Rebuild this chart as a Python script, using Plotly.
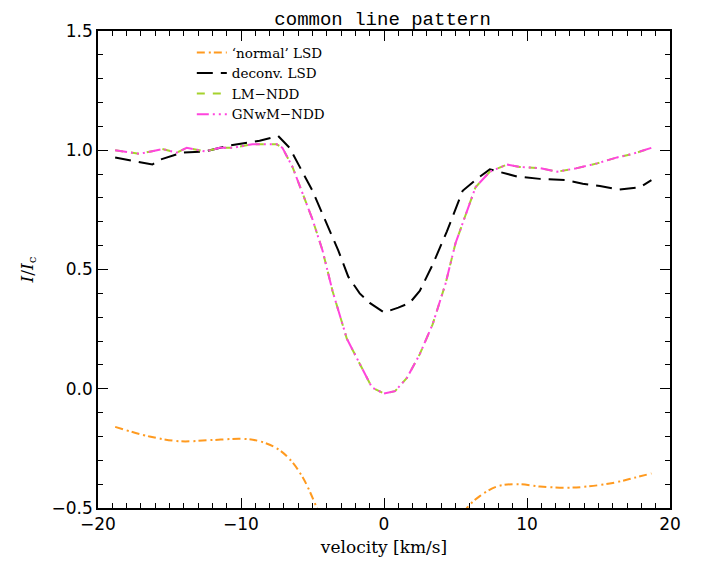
import plotly.graph_objects as go

# 'normal' LSD (orange) — dips below the plotted range near line centre
x_normal = [-18.8, -16.4, -14.3, -12.0, -9.9, -8.7, -7.5, -6.6, -5.7, -4.7, -3.5, -2.0, 0.0, 2.0, 3.8, 5.0, 5.8, 6.7, 7.9, 9.3, 10.9, 12.8, 14.2, 16.0, 17.4, 18.7]
y_normal = [-0.16, -0.20, -0.22, -0.215, -0.21, -0.22, -0.25, -0.295, -0.37, -0.50, -0.70, -0.88, -0.97, -0.88, -0.70, -0.58, -0.50, -0.45, -0.41, -0.40, -0.41, -0.415, -0.41, -0.395, -0.375, -0.355]

# deconvolved LSD (black)
x_deconv = [-18.8, -16.2, -15.7, -14.1, -12.5, -10.8, -8.7, -7.4, -6.6, -5.0, -3.2, -2.5, -1.7, -1.0, 0.0, 1.0, 1.8, 2.5, 3.4, 4.4, 5.5, 6.5, 7.4, 9.3, 10.9, 12.7, 13.9, 15.1, 16.4, 17.9, 18.7]
y_deconv = [0.97, 0.94, 0.96, 0.99, 0.995, 1.02, 1.04, 1.06, 1.01, 0.83, 0.58, 0.47, 0.40, 0.36, 0.32, 0.34, 0.36, 0.41, 0.52, 0.66, 0.83, 0.88, 0.92, 0.89, 0.88, 0.875, 0.86, 0.85, 0.835, 0.845, 0.875]

# NDD solutions (LM and GNwM, nearly identical)
x_ndd = [-18.8, -17.1, -15.5, -14.5, -13.8, -12.5, -11.5, -10.6, -9.2, -7.5, -7.1, -6.4, -5.0, -4.3, -3.6, -2.6, -1.7, -0.84, 0.0, 0.77, 1.6, 2.5, 3.4, 4.3, 5.0, 6.4, 7.4, 8.6, 9.5, 10.9, 12.1, 13.5, 14.9, 16.3, 17.4, 18.7]
y_lm = [1.0, 0.985, 1.005, 0.99, 1.01, 0.995, 1.01, 1.01, 1.025, 1.025, 1.01, 0.93, 0.71, 0.58, 0.41, 0.21, 0.105, 0.005, -0.02, -0.01, 0.045, 0.145, 0.27, 0.44, 0.61, 0.845, 0.91, 0.94, 0.93, 0.925, 0.91, 0.925, 0.945, 0.97, 0.985, 1.01]
y_gnwm = [1.0, 0.985, 1.005, 0.99, 1.01, 0.995, 1.01, 1.01, 1.025, 1.025, 1.01, 0.93, 0.71, 0.58, 0.41, 0.21, 0.105, 0.005, -0.02, -0.01, 0.045, 0.145, 0.27, 0.44, 0.61, 0.845, 0.91, 0.94, 0.93, 0.925, 0.91, 0.925, 0.945, 0.97, 0.985, 1.01]

x_ticks = [-20, -10, 0, 10, 20]
y_ticks = [-0.5, 0.0, 0.5, 1.0, 1.5]
y_tick_labels = ["\u22120.5", "0.0", "0.5", "1.0", "1.5"]
x_tick_labels = ["\u221220", "\u221210", "0", "10", "20"]

ORANGE = "#FF9A1F"
GREEN = "#A5D22D"
MAGENTA = "#FF44DD"

fig = go.Figure()
fig.add_trace(go.Scatter(x=x_normal, y=y_normal, mode="lines", name="\u2018normal\u2019 LSD",
                         line=dict(color=ORANGE, width=2, dash="8px,4px,2px,3px", shape="spline")))
fig.add_trace(go.Scatter(x=x_deconv, y=y_deconv, mode="lines", name="deconv. LSD",
                         line=dict(color="black", width=2, dash="16px,8px")))
fig.add_trace(go.Scatter(x=x_ndd, y=y_lm, mode="lines", name="LM\u2212NDD",
                         line=dict(color=GREEN, width=2, dash="8px,8px")))
fig.add_trace(go.Scatter(x=x_ndd, y=y_gnwm, mode="lines", name="GNwM\u2212NDD",
                         line=dict(color=MAGENTA, width=2, dash="12px,4px,2px,4px,2px,4px,2px,4px")))

axis_common = dict(showline=True, linecolor="black", linewidth=1.5, mirror="ticks",
                   ticks="inside", ticklen=10, tickwidth=1.2, tickcolor="black",
                   showgrid=False, zeroline=False, automargin=False,
                   tickfont=dict(family="DejaVu Sans", size=17, color="black"))

fig.update_xaxes(range=[-20, 20], tickvals=x_ticks, ticktext=x_tick_labels,
                 minor=dict(dtick=1, ticklen=5, ticks="inside", tickcolor="black", tickwidth=1.2),
                 title=dict(text="velocity [km/s]", font=dict(family="DejaVu Serif", size=17, color="black"), standoff=8),
                 **axis_common)
fig.update_yaxes(range=[-0.5, 1.5], tickvals=y_ticks, ticktext=y_tick_labels,
                 minor=dict(dtick=0.1, ticklen=5, ticks="inside", tickcolor="black", tickwidth=1.2),
                 title=dict(text="<i>I</i>/<i>I</i><sub>c</sub>", font=dict(family="DejaVu Serif", size=17, color="black"), standoff=14),
                 **axis_common)

fig.update_layout(
    width=685, height=549,
    margin=dict(l=90, r=23, t=23, b=49),
    paper_bgcolor="white", plot_bgcolor="white",
    title=dict(text="common line pattern", x=0.547, xanchor="center", y=0.982, yanchor="middle",
               font=dict(family="Liberation Mono", size=19, color="black")),
    legend=dict(x=0.164, y=0.987, xanchor="left", yanchor="top", bgcolor="rgba(0,0,0,0)",
                font=dict(family="DejaVu Serif", size=13.5, color="black"), tracegroupgap=0),
    showlegend=True,
)

fig.write_html("out.html")
